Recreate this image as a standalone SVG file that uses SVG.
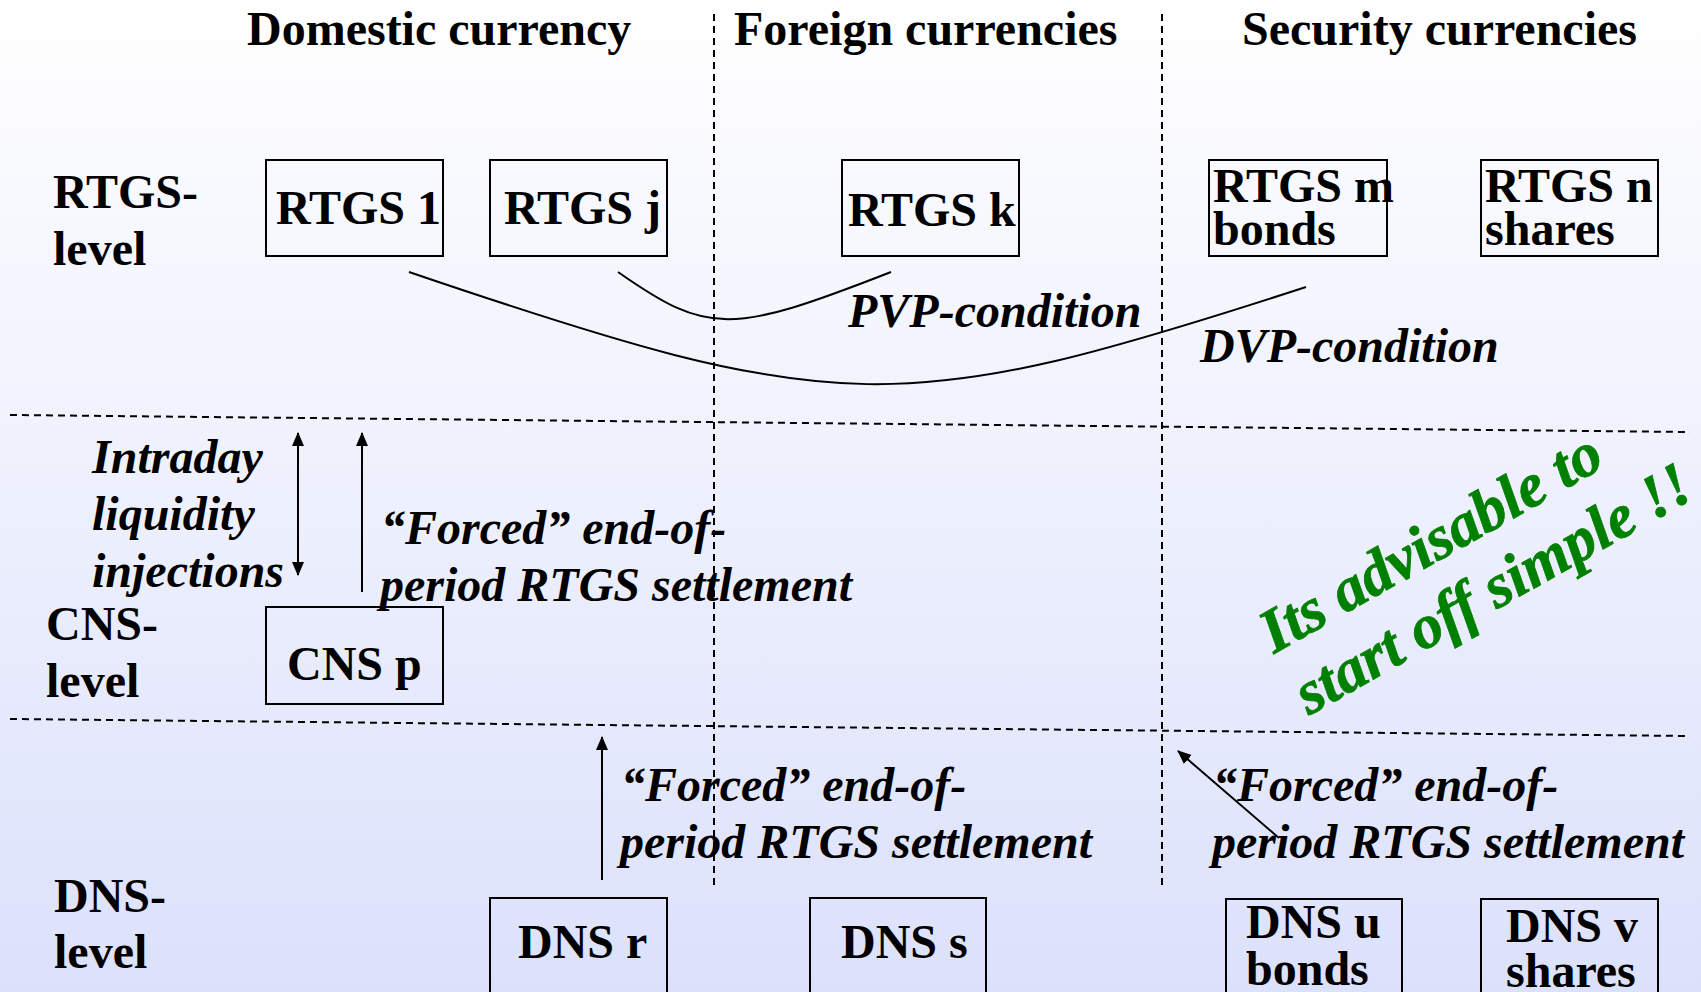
<svg xmlns="http://www.w3.org/2000/svg" width="1701" height="992" viewBox="0 0 1701 992">
<defs>
<linearGradient id="bg" x1="0" y1="0" x2="0" y2="1">
<stop offset="0" stop-color="#ffffff"/>
<stop offset="1" stop-color="#dce1fb"/>
</linearGradient>
<marker id="ah" markerUnits="userSpaceOnUse" markerWidth="14" markerHeight="14" viewBox="0 0 14 12" refX="13" refY="6" orient="auto-start-reverse">
<path d="M0,0 L14,6 L0,12 z" fill="#000"/>
</marker>
<style>
text{font-family:"Liberation Serif","Times New Roman",serif;font-weight:bold;font-size:48px;fill:#000}
.it{font-style:italic}
.box{fill:none;stroke:#000;stroke-width:2}
.dash{stroke:#000;stroke-width:2;stroke-dasharray:7 5;fill:none}
.curve{fill:none;stroke:#000;stroke-width:2}
.arr{stroke:#000;stroke-width:2;fill:none}
.green{fill:#008000;stroke:#008000;stroke-width:0.8;font-size:62px;font-style:italic}
</style>
</defs>
<rect x="0" y="0" width="1701" height="992" fill="url(#bg)"/>

<g id="grid">
<line class="dash" x1="714" y1="14" x2="714" y2="890"/>
<line class="dash" x1="1162" y1="14" x2="1162" y2="890"/>
<line class="dash" x1="10" y1="415" x2="1690" y2="432"/>
<line class="dash" x1="10" y1="719" x2="1690" y2="736"/>
</g>

<g id="headers">
<text x="247" y="45">Domestic currency</text>
<text x="734" y="45">Foreign currencies</text>
<text x="1242" y="45">Security currencies</text>
</g>

<g id="row-labels">
<text x="53" y="208">RTGS-</text>
<text x="53" y="265">level</text>
<text x="46" y="640">CNS-</text>
<text x="46" y="697">level</text>
<text x="54" y="912">DNS-</text>
<text x="54" y="968">level</text>
</g>

<g id="rtgs1"><rect class="box" x="266" y="160" width="177" height="96"/><text x="276" y="224">RTGS 1</text></g>
<g id="rtgsj"><rect class="box" x="490" y="160" width="177" height="96"/><text x="504" y="224">RTGS j</text></g>
<g id="rtgsk"><rect class="box" x="842" y="160" width="177" height="96"/><text x="848" y="226">RTGS k</text></g>
<g id="rtgsm"><rect class="box" x="1209" y="160" width="178" height="96"/><text x="1213" y="202">RTGS m</text><text x="1213" y="245">bonds</text></g>
<g id="rtgsn"><rect class="box" x="1481" y="160" width="177" height="96"/><text x="1485" y="202">RTGS n</text><text x="1485" y="245">shares</text></g>
<g id="cnsp"><rect class="box" x="266" y="607" width="177" height="97"/><text x="287" y="680">CNS p</text></g>
<g id="dnsr"><rect class="box" x="490" y="898" width="177" height="110"/><text x="518" y="958">DNS r</text></g>
<g id="dnss"><rect class="box" x="810" y="898" width="176" height="110"/><text x="841" y="958">DNS s</text></g>
<g id="dnsu"><rect class="box" x="1226" y="899" width="176" height="110"/><text x="1246" y="938">DNS u</text><text x="1246" y="985">bonds</text></g>
<g id="dnsv"><rect class="box" x="1481" y="899" width="177" height="110"/><text x="1506" y="942">DNS v</text><text x="1506" y="987">shares</text></g>

<g id="connectors">
<path class="curve" d="M409,272 C841,419 900,419 1306,287"/>
<path class="curve" d="M618,272 C708,335 730,335 891,272"/>
<line class="arr" x1="298" y1="433" x2="298" y2="575" marker-start="url(#ah)" marker-end="url(#ah)"/>
<line class="arr" x1="362" y1="592" x2="362" y2="433" marker-end="url(#ah)"/>
<line class="arr" x1="602" y1="880" x2="602" y2="737" marker-end="url(#ah)"/>
<line class="arr" x1="1279" y1="838" x2="1178" y2="751" marker-end="url(#ah)"/>
</g>

<g id="labels">
<text class="it" x="848" y="327">PVP-condition</text>
<text class="it" x="1200" y="362">DVP-condition</text>
<text class="it" x="92" y="473">Intraday</text>
<text class="it" x="92" y="530">liquidity</text>
<text class="it" x="92" y="587">injections</text>
<text class="it" x="381" y="544">“Forced” end-of-</text>
<text class="it" x="380" y="601">period RTGS settlement</text>
<text class="it" x="621" y="801">“Forced” end-of-</text>
<text class="it" x="620" y="858">period RTGS settlement</text>
<text class="it" x="1213" y="801">“Forced” end-of-</text>
<text class="it" x="1212" y="858">period RTGS settlement</text>
</g>

<g id="note">
<text class="green" transform="rotate(-29.5 1274 654)" x="1274" y="654">Its advisable to<tspan x="1274" dy="71">start off simple !!</tspan></text>
</g>
</svg>
